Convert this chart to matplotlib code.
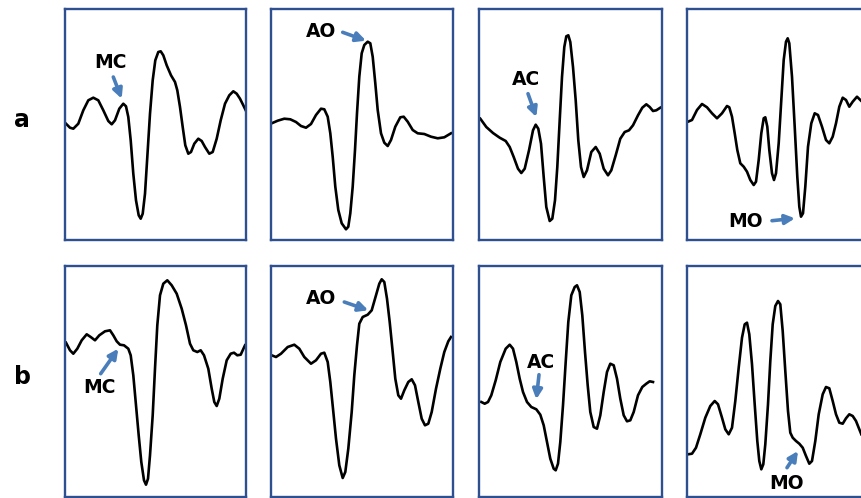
import matplotlib
matplotlib.use("Agg")
import matplotlib.pyplot as plt

# traces: time (px units across the window) and amplitude (px units, up = +)
a1_t = [1.0, 5.0, 8.3, 13.3, 18.3, 23.3, 28.3, 33.3, 38.3, 43.3, 46.7, 50.0, 54.3, 58.3, 61.0, 63.3,
        65.7, 68.3, 71.0, 73.7, 75.7, 77.7, 80.0, 82.3, 85.0, 87.7, 90.3, 93.3, 95.7, 98.3, 101.7,
        106.0, 110.0, 112.3, 115.0, 117.7, 120.3, 123.3, 126.0, 129.3, 133.3, 136.7, 140.0, 144.3,
        147.7, 151.7, 155.7, 160.0, 164.3, 168.3, 171.7, 175.0, 178.3, 180.7]
a1_v = [0.3, -3.7, -4.7, 0.3, 13.7, 23.7, 26.3, 23.7, 13.7, 3.0, -0.3, 3.7, 15.3, 20.3, 17.7, 7.0,
        -16.3, -49.7, -76.3, -91.3, -94.7, -89.7, -69.7, -33.0, 10.3, 43.7, 63.7, 72.0, 72.7, 68.7, 58.7,
        48.7, 42.0, 33.7, 17.0, -3.0, -21.3, -29.7, -28.0, -19.7, -14.7, -17.0, -23.0, -29.7,
        -28.0, -14.7, 3.7, 20.3, 28.7, 32.7, 30.3, 25.3, 18.7, 13.7]

a2_t = [0.7, 6.7, 13.3, 19.3, 25.0, 30.0, 35.0, 40.0, 45.0, 50.0, 53.3, 56.7, 59.3, 61.7, 64.3, 67.3,
        70.7, 75.0, 77.3, 79.3, 81.7, 84.0, 86.0, 88.3, 90.7, 93.3, 96.7, 99.3, 101.7, 104.3, 106.7,
        110.0, 113.3, 116.7, 120.0, 124.3, 129.3, 132.7, 136.7, 141.7, 146.7, 153.3, 160.0, 166.7,
        173.3, 180.0]
a2_v = [0.7, 3.3, 5.3, 4.7, 2.0, -2.0, -3.7, 0.0, 9.0, 15.3, 14.7, 7.3, -9.3, -32.7, -62.7, -86.0,
        -99.3, -105.3, -102.7, -89.3, -62.7, -26.0, 10.7, 47.3, 70.7, 79.0, 82.3, 80.7, 67.3, 40.7, 14.0,
        -9.3, -18.7, -22.0, -16.0, -2.7, 6.7, 7.3, 2.3, -6.0, -9.3, -10.0, -12.7, -14.3,
        -13.3, -9.3]

a3_t = [1.3, 7.3, 14.0, 20.7, 26.7, 30.7, 34.7, 39.0, 42.3, 45.7, 50.0, 54.0, 56.7, 59.3, 62.0, 64.7,
        67.3, 70.7, 73.3, 76.0, 78.3, 80.7, 83.0, 85.3, 87.3, 89.3, 91.3, 94.0, 96.7, 99.3, 102.0,
        104.7, 108.0, 112.3, 116.7, 120.7, 124.7, 129.0, 132.3, 136.7, 141.3, 145.7, 150.0, 154.0,
        159.0, 163.3, 167.3, 170.7, 174.0, 177.3, 181.3]
a3_v = [5.3, -3.0, -9.0, -13.7, -17.0, -23.0, -33.0, -44.7, -49.0, -44.7, -26.3, -6.3, -0.7, -4.7, -19.7, -53.0,
        -83.0, -97.0, -94.7, -76.3, -43.0, 3.7, 47.0, 77.0, 87.7, 88.7, 82.0, 57.0, 23.7, -16.3, -43.0,
        -53.0, -46.3, -28.0, -23.0, -29.7, -44.7, -51.3, -46.3, -31.3, -14.7, -8.0, -6.3, -1.3,
        8.7, 16.3, 19.7, 17.0, 13.0, 13.7, 16.3]

a4_t = [1.0, 5.0, 10.0, 15.0, 20.0, 25.0, 30.0, 35.0, 40.0, 42.3, 45.0, 47.7, 50.3, 53.3, 56.7, 60.0,
        63.3, 66.7, 69.0, 71.7, 74.3, 76.7, 78.3, 80.3, 82.3, 85.0, 87.0, 89.0, 91.7, 94.3, 96.7,
        99.0, 100.7, 102.3, 105.0, 107.7, 110.3, 112.3, 114.0, 116.0, 118.3, 121.0, 124.3, 127.7,
        131.0, 135.0, 139.0, 142.3, 145.7, 149.0, 152.3, 155.7, 159.0, 162.3, 165.7, 170.0, 173.3, 176.7]
a4_v = [2.3, 4.0, 14.0, 20.0, 16.7, 10.7, 5.7, 10.7, 18.0, 16.7, 7.3, -9.3, -26.0, -39.3, -42.7, -47.7,
        -56.0, -61.0, -57.7, -36.0, -9.3, 5.7, 6.7, -2.7, -26.0, -49.3, -56.0, -49.3, -19.3, 24.0, 64.0,
        82.3, 85.7, 80.7, 47.3, -2.7, -52.7, -82.7, -92.7, -89.3, -62.7, -22.7, 0.7, 10.7,
        9.0, -2.7, -16.0, -19.3, -12.7, 0.7, 17.3, 26.3, 24.0, 17.3, 22.3, 27.3, 24.0, 20.7]

b1_t = [1.0, 5.0, 8.3, 12.3, 16.7, 21.7, 25.7, 30.0, 34.3, 40.0, 45.0, 48.3, 51.7, 55.0, 59.0, 63.3,
        65.7, 68.3, 71.0, 73.7, 76.3, 79.0, 81.0, 83.0, 85.0, 87.7, 90.0, 92.3, 95.0, 98.3, 102.3,
        106.7, 111.7, 116.7, 121.0, 125.0, 128.3, 132.3, 135.7, 139.0, 143.3, 146.7, 149.3, 151.7,
        154.3, 157.7, 161.7, 165.7, 169.0, 172.3, 175.7, 180.0]
b1_v = [37.3, 29.7, 26.3, 31.3, 39.7, 45.7, 43.0, 39.7, 44.7, 48.7, 49.7, 44.7, 38.7, 35.3, 34.7, 31.3,
        24.7, 4.7, -25.3, -55.3, -82.0, -100.3, -104.7, -98.7, -75.3, -35.3, 11.3, 54.7, 84.7, 96.3, 99.7,
        94.7, 86.3, 71.3, 54.7, 36.3, 29.7, 28.0, 29.7, 24.7, 11.3, -8.7, -22.0, -26.0,
        -18.7, 1.3, 19.7, 26.3, 27.3, 24.7, 25.3, 34.7]

b2_t = [0.7, 5.0, 10.0, 16.7, 23.3, 28.3, 33.3, 40.0, 45.0, 50.0, 53.3, 56.7, 59.3, 62.0, 65.0, 68.3,
        71.7, 74.3, 77.3, 80.7, 83.3, 86.0, 88.3, 91.7, 96.7, 100.7, 105.0, 108.3, 110.7, 113.3, 116.0,
        118.7, 121.7, 124.3, 127.3, 130.0, 133.3, 137.3, 140.7, 144.0, 147.3, 150.7, 154.0, 157.3,
        160.7, 165.0, 169.3, 173.3, 177.3, 180.0]
b2_v = [24.7, 23.0, 26.3, 33.0, 35.3, 31.3, 23.0, 16.3, 19.7, 26.3, 27.3, 18.0, -2.0, -28.7, -58.7, -85.3,
        -98.0, -92.0, -68.7, -32.0, 4.7, 34.7, 56.3, 63.0, 65.3, 69.7, 84.7, 96.3, 100.7, 98.0, 81.3,
        58.0, 28.0, 1.3, -15.3, -18.7, -10.3, -2.0, 0.7, -5.3, -22.0, -38.7, -45.3, -43.7,
        -32.0, -8.7, 11.3, 28.0, 38.7, 43.0]

b3_t = [2.3, 5.7, 9.0, 12.3, 16.7, 21.3, 26.7, 30.7, 34.0, 37.3, 40.7, 44.0, 48.0, 52.3, 57.3, 61.3,
        64.7, 68.0, 71.3, 74.7, 76.7, 79.0, 81.3, 84.0, 86.7, 89.3, 92.3, 95.7, 98.0, 100.7, 103.3,
        106.0, 108.7, 111.3, 114.7, 118.0, 121.3, 124.7, 128.0, 131.3, 134.7, 138.0, 141.3, 144.7,
        148.0, 151.3, 154.7, 159.0, 163.3, 167.3, 170.7, 174.0]
b3_v = [-22.0, -23.7, -22.0, -15.3, -0.3, 18.0, 31.3, 35.3, 31.3, 18.0, 1.3, -12.0, -22.0, -27.0, -29.3, -34.7,
        -45.3, -62.0, -78.7, -88.7, -90.3, -83.7, -62.0, -25.3, 18.0, 58.0, 84.7, 93.0, 94.7, 88.0, 64.7,
        28.0, -5.3, -32.0, -47.0, -48.7, -35.3, -12.0, 8.0, 16.3, 14.7, 1.3, -18.7, -35.3,
        -41.3, -40.3, -32.0, -15.3, -7.0, -3.7, -1.3, -2.0]

b4_t = [1.0, 5.0, 9.0, 13.3, 18.3, 23.3, 27.7, 31.0, 35.0, 38.3, 41.7, 45.0, 48.3, 51.7, 55.0, 57.7,
        60.0, 62.3, 65.0, 67.7, 70.3, 72.3, 74.3, 76.3, 78.3, 81.0, 83.3, 85.7, 88.3, 91.0, 93.3,
        95.7, 98.3, 101.0, 103.3, 105.7, 109.0, 112.3, 115.7, 119.0, 122.3, 125.0, 128.3, 131.7,
        135.7, 139.0, 142.3, 145.7, 149.0, 152.3, 155.7, 159.0, 162.3, 165.7, 169.0, 172.3, 174.3]
b4_v = [-74.3, -73.7, -67.7, -54.3, -37.7, -26.0, -21.0, -24.3, -37.7, -49.3, -54.3, -47.7, -21.0, 12.3, 42.3, 55.7,
        57.3, 45.7, 15.7, -24.3, -61.0, -81.0, -89.3, -84.3, -64.3, -24.3, 19.0, 55.7, 74.0, 79.0, 75.7,
        49.0, 9.0, -31.0, -52.7, -57.7, -61.0, -63.7, -67.7, -76.0, -83.7, -81.0, -61.0, -34.3,
        -14.3, -7.0, -8.3, -21.0, -34.3, -42.7, -43.7, -38.3, -34.3, -36.0, -41.0, -49.3, -54.3]

# marker labels: name, label position, arrow tail, arrow head
a_marks = [("MC", (45, 62), (48.3, 47), (56.7, 25.3)),
           ("AO", (50, 92.3), (71.7, 91.7), (95, 83.3)),
           ("AC", (46.7, 44.3), (49, 30.3), (57.3, 7)),
           ("MO", (58.3, -97.7), (85, -96.7), (108, -94.3))]
b_marks = [("MC", (34.3, -7), (35.7, 6.3), (53.3, 31.3)),
           ("AO", (50, 81.3), (73.3, 78), (97.3, 69.7)),
           ("AC", (62.3, 18), (60, 5.3), (57.3, -19.3)),
           ("MO", (100, -103.7), (100, -87.7), (111, -71))]

rows = [("a", [(a1_t, a1_v), (a2_t, a2_v), (a3_t, a3_v), (a4_t, a4_v)], a_marks, 9, 240, 124),
        ("b", [(b1_t, b1_v), (b2_t, b2_v), (b3_t, b3_v), (b4_t, b4_v)], b_marks, 266, 497, 380)]
cols = [(65, 246), (271, 453), (479, 662), (687, 868)]

W, H = 861, 498
frame = "#2E5090"
arrow_c = "#4A7EBB"

fig = plt.figure(figsize=(W / 100, H / 100), dpi=100)
fig.patch.set_facecolor("white")

for name, traces, marks, top, bot, mid in rows:
    fig.text(22 / W, 1 - (top + bot) / 2 / H + 0.01, name, fontsize=17, fontweight="bold",
             family="DejaVu Sans", ha="center", va="center")
    for (x0, x1), (t, v), (lab, txy, tail, head) in zip(cols, traces, marks):
        ax = fig.add_axes([x0 / W, 1 - bot / H, (x1 - x0) / W, (bot - top) / H])
        ax.plot(t, v, color="black", lw=1.9, solid_joinstyle="round")
        ax.set_xlim(0, x1 - x0)
        ax.set_ylim(mid - bot, mid - top)
        ax.set_xticks([])
        ax.set_yticks([])
        for sp in ax.spines.values():
            sp.set_color(frame)
            sp.set_linewidth(1.7)
        ax.text(txy[0], txy[1], lab, fontsize=13.5, fontweight="bold",
                family="DejaVu Sans", ha="center", va="center")
        ax.annotate("", xy=head, xytext=tail,
                    arrowprops=dict(arrowstyle="-|>", color=arrow_c, lw=2.6,
                                    mutation_scale=14, shrinkA=0, shrinkB=0))

fig.savefig("out.png", dpi=100, facecolor="white")
